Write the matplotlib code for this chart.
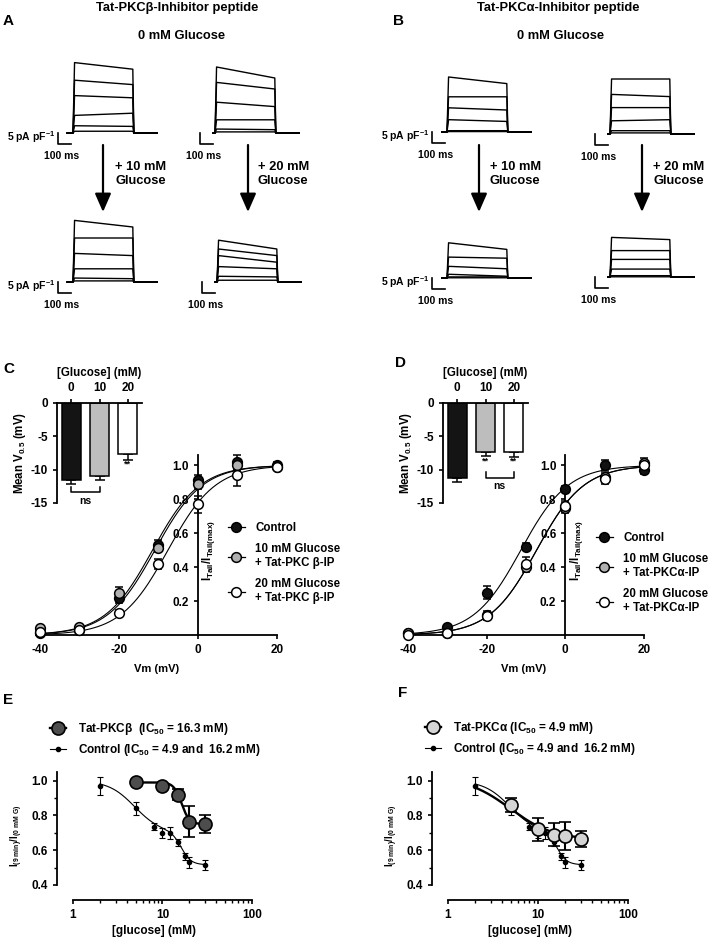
import numpy as np
import matplotlib
matplotlib.use('Agg')
import matplotlib.pyplot as plt
from matplotlib.lines import Line2D
from matplotlib.patches import FancyArrowPatch
from matplotlib.ticker import FixedLocator, NullFormatter

plt.rcParams['font.family'] = ['Liberation Sans', 'DejaVu Sans']
plt.rcParams['font.weight'] = 'bold'
plt.rcParams['axes.labelweight'] = 'bold'
plt.rcParams['axes.unicode_minus'] = False
plt.rcParams['mathtext.fontset'] = 'custom'
plt.rcParams['mathtext.rm'] = 'Liberation Sans:bold'
plt.rcParams['mathtext.bf'] = 'Liberation Sans:bold'
plt.rcParams['mathtext.it'] = 'Liberation Sans:bold'
plt.rcParams['mathtext.default'] = 'bf'
plt.rcParams['axes.linewidth'] = 1.3
plt.rcParams['xtick.major.width'] = 1.2
plt.rcParams['ytick.major.width'] = 1.2
plt.rcParams['xtick.minor.width'] = 1.0
plt.rcParams['ytick.minor.width'] = 1.0
plt.rcParams['xtick.major.size'] = 3
plt.rcParams['ytick.major.size'] = 3
plt.rcParams['xtick.minor.size'] = 2
plt.rcParams['ytick.minor.size'] = 2
plt.rcParams['xtick.labelsize'] = 8.5
plt.rcParams['ytick.labelsize'] = 8.5

# ---- A / B : current traces, amplitude (pA/pF) at start and end of the 460 ms pulse
pulse_ms = 460
a_0mm_left_start = [32, 24, 17, 8, 3.3, 0.8]
a_0mm_left_end = [29, 22, 16, 9, 3.0, 0.8]
a_10mm_start = [28, 20, 13, 6, 1.8, 0.5]
a_10mm_end = [25, 20, 12, 6, 1.5, 0.5]
a_0mm_right_start = [30, 23, 14, 6, 1.8, 0.5]
a_0mm_right_end = [25, 20, 12, 6, 1.5, 0.5]
a_20mm_start = [19, 15, 12, 7, 2.6, 0.8]
a_20mm_end = [15, 12, 9, 6, 2.3, 0.8]

b_0mm_left_start = [25, 16, 11, 5.6, 0.6, 0.2]
b_0mm_left_end = [22, 16, 10, 4.8, 0.6, 0.2]
b_10mm_start = [16, 9.5, 5.3, 1.7, 0.5, 0.1]
b_10mm_end = [13, 9, 4.2, 0.8, 0.5, 0.1]
b_0mm_right_start = [25, 18, 12, 6, 1.5, 0.5]
b_0mm_right_end = [25, 17, 12, 6.5, 1.5, 0.5]
b_20mm_start = [18, 12, 8, 3.6, 0.6, 0.1]
b_20mm_end = [17, 12, 8, 3.6, 0.6, 0.1]

# ---- C / D : activation curves
vm = [-40, -30, -20, -10, 0, 10, 20]
c_ctrl = [0.01, 0.03, 0.22, 0.53, 0.91, 1.02, 1.00]
c_ctrl_err = [0.01, 0.01, 0.03, 0.03, 0.03, 0.04, 0.02]
c_10mm = [0.04, 0.05, 0.25, 0.51, 0.89, 1.00, 0.99]
c_10mm_err = [0.01, 0.01, 0.03, 0.02, 0.03, 0.03, 0.02]
c_20mm = [0.02, 0.03, 0.13, 0.42, 0.77, 0.94, 0.99]
c_20mm_err = [0.01, 0.01, 0.02, 0.03, 0.05, 0.06, 0.02]

d_ctrl = [0.01, 0.05, 0.25, 0.52, 0.86, 1.00, 0.97]
d_ctrl_err = [0.01, 0.01, 0.04, 0.02, 0.02, 0.03, 0.02]
d_10mm = [0.01, 0.01, 0.12, 0.40, 0.75, 0.93, 1.01]
d_10mm_err = [0.01, 0.01, 0.02, 0.03, 0.03, 0.03, 0.03]
d_20mm = [0.00, 0.01, 0.11, 0.42, 0.76, 0.92, 1.00]
d_20mm_err = [0.01, 0.01, 0.02, 0.04, 0.03, 0.03, 0.02]

glucose_groups = ['0', '10', '20']
c_v05 = [-11.5, -10.9, -7.6]
c_v05_err = [0.6, 0.7, 0.9]
d_v05 = [-11.3, -7.3, -7.3]
d_v05_err = [0.6, 0.65, 0.75]
slope_k = 6.0

# ---- E / F : glucose dose response
ctrl_glc = [2, 5, 8, 10, 12, 15, 18, 20, 30]
ctrl_inh = [0.97, 0.84, 0.735, 0.70, 0.70, 0.645, 0.565, 0.53, 0.515]
ctrl_inh_err = [0.05, 0.04, 0.02, 0.03, 0.035, 0.02, 0.02, 0.03, 0.03]
pkc_glc = [5, 10, 15, 20, 30]
beta_inh = [0.99, 0.97, 0.92, 0.765, 0.75]
beta_inh_err = [0.01, 0.01, 0.03, 0.09, 0.05]
alpha_inh = [0.86, 0.72, 0.69, 0.68, 0.665]
alpha_inh_err = [0.04, 0.065, 0.065, 0.08, 0.045]
ctrl_fit = dict(bottom=0.515, span1=0.30, ic1=4.9, n1=3, span2=0.185, ic2=16.2, n2=8)
beta_fit = dict(top=0.99, bottom=0.75, ic=16.3, n=10)
alpha_fit = dict(top=1.02, bottom=0.66, ic=4.9, n=1.8)

W, H = 709, 940
fig = plt.figure(figsize=(W / 100, H / 100), dpi=100)


def box(l, t, r, b):
    return [l / W, 1 - b / H, (r - l) / W, (b - t) / H]


def ftext(x, y, s, **kw):
    fig.text(x / W, 1 - y / H, s, **kw)


def trace_block(x0, y0, starts, ends, pre, with_label):
    # x0: pulse start px, y0: baseline px ; 0.13 px/ms, 2.2 px per pA/pF
    ax = fig.add_axes(box(x0 - 19.5, y0 - 74.8, x0 + 84.5, y0 + 17.6))
    ax.set_xlim(-150, 650)
    ax.set_ylim(-8, 34)
    ax.axis('off')
    for a0, a1 in zip(starts, ends):
        ax.plot([pre, 0, 12, pulse_ms, pulse_ms + 8, 650], [0, 0, a0, a1, 0, 0],
                color='k', lw=1.0)
    ax.plot([-118, -118, -18], [0, -5, -5], color='k', lw=1.2)
    if with_label:
        ax.text(-135, -2, '5 pA pF$^{-1}$', ha='right', va='center', fontsize=7.5)
    ax.text(-85, -10.5, '100 ms', ha='center', va='center', fontsize=7.5)


def down_arrow(x, y0, y1):
    fig.add_artist(FancyArrowPatch((x / W, 1 - y0 / H), (x / W, 1 - y1 / H),
                                   transform=fig.transFigure, color='k', lw=1.6,
                                   arrowstyle='-|>,head_length=0.8,head_width=0.35',
                                   mutation_scale=14, shrinkA=0, shrinkB=0))


# ---- headers
ftext(177, 8, 'Tat-PKCβ-Inhibitor peptide', ha='center', va='center', fontsize=9.3)
ftext(558, 8, 'Tat-PKCα-Inhibitor peptide', ha='center', va='center', fontsize=9.3)
ftext(182, 36, '0 mM Glucose', ha='center', va='center', fontsize=9.3)
ftext(561, 36, '0 mM Glucose', ha='center', va='center', fontsize=9.3)
for lab, x, y in [('A', 3, 21), ('B', 393, 21), ('C', 3, 369), ('D', 395, 363),
                  ('E', 3, 700), ('F', 398, 693)]:
    ftext(x, y, lab, ha='left', va='center', fontsize=11)

trace_block(73, 133, a_0mm_left_start, a_0mm_left_end, -45, True)
trace_block(215, 133, a_0mm_right_start, a_0mm_right_end, -15, False)
trace_block(73, 282, a_10mm_start, a_10mm_end, -45, True)
trace_block(217, 282, a_20mm_start, a_20mm_end, -15, False)
trace_block(447, 132, b_0mm_left_start, b_0mm_left_end, -40, True)
trace_block(610, 134, b_0mm_right_start, b_0mm_right_end, -15, False)
trace_block(447, 278, b_10mm_start, b_10mm_end, -40, True)
trace_block(610, 277, b_20mm_start, b_20mm_end, -15, False)

for x, xt, lab in [(103, 115, '+ 10 mM\nGlucose'), (248, 258, '+ 20 mM\nGlucose'),
                   (479, 490, '+ 10 mM\nGlucose'), (642, 653, '+ 20 mM\nGlucose')]:
    down_arrow(x, 145, 212)
    ftext(xt, 174, lab, ha='left', va='center', fontsize=9.3, linespacing=1.3)


# ---- C / D
def iv_panel(main_box, inset_box, series, v05, v05_err, sig, legend_at, ylab_x):
    ax = fig.add_axes(main_box)
    ax.set_facecolor('none')
    ax.set_xlim(-41, 20)
    ax.set_ylim(0, 1.06)
    ax.spines['left'].set_position(('data', 0))
    ax.spines['top'].set_visible(False)
    ax.spines['right'].set_visible(False)
    ax.set_xticks([-40, -20, 0, 20])
    ax.set_yticks([0.2, 0.4, 0.6, 0.8, 1.0])
    ax.set_yticklabels(['0.2', '0.4', '0.6', '0.8', '1.0'])
    ax.set_xlabel('Vm (mV)', fontsize=8, labelpad=6)
    vv = np.linspace(-40, 20, 200)
    handles = []
    for (ys, es, fc, lab), v in zip(series, v05):
        ax.plot(vv, 1 / (1 + np.exp((v - vv) / slope_k)), color='k', lw=0.8, zorder=2)
        ax.errorbar(vm, ys, yerr=es, fmt='o', ms=7, mfc=fc, mec='k', mew=1.1,
                    ecolor='k', elinewidth=1.1, capsize=3, capthick=1.1,
                    clip_on=False, zorder=3)
        handles.append(Line2D([], [], color='k', lw=0.9, marker='o', ms=7, mfc=fc,
                              mec='k', mew=1.1))
    ax.text(ylab_x, 0.47, r'I$_{Tail}$/I$_{Tail(max)}$', transform=ax.transAxes,
            rotation=90, ha='center', va='center', fontsize=8.3)
    ax.legend(handles, [s[3] for s in series], loc='upper left',
              bbox_to_anchor=(legend_at[0] / W, 1 - legend_at[1] / H),
              bbox_transform=fig.transFigure, frameon=False, borderpad=0,
              borderaxespad=0, handlelength=1.45, handletextpad=0.9,
              labelspacing=0.8, fontsize=8.3)

    ins = fig.add_axes(inset_box)
    ins.set_facecolor('none')
    pos = np.arange(3)
    ins.bar(pos, v05, width=0.68, color=['#141414', '#bdbdbd', 'white'],
            edgecolor='k', lw=1.1, zorder=2)
    ins.errorbar(pos, v05, yerr=[v05_err, np.zeros(3)], fmt='none', ecolor='k',
                 elinewidth=1.1, capsize=3.5, capthick=1.1, zorder=1)
    ins.set_xlim(-0.5, 2.5)
    ins.set_ylim(-15, 0)
    ins.xaxis.tick_top()
    ins.xaxis.set_label_position('top')
    ins.set_xticks(pos)
    ins.set_xticklabels(glucose_groups)
    ins.set_yticks([-15, -10, -5, 0])
    ins.set_xlabel('[Glucose] (mM)', fontsize=8.3, labelpad=4)
    ins.set_ylabel('Mean V$_{0.5}$ (mV)', fontsize=8.3, labelpad=2)
    ins.spines['bottom'].set_visible(False)
    ins.spines['right'].set_visible(False)
    stars, bx0, bx1, by, ny = sig
    for p in stars:
        ins.text(p, v05[p] - v05_err[p] - 0.7, '**', ha='center', va='center', fontsize=6.5)
    ins.plot([bx0, bx0, bx1, bx1], [by + 0.8, by, by, by + 0.8], color='k', lw=1.1,
             clip_on=False)
    ins.text((bx0 + bx1) / 2, ny, 'ns', ha='center', va='center', fontsize=7.5)


iv_panel(box(36, 455, 277, 635), box(57, 403, 142, 503),
         [(c_ctrl, c_ctrl_err, '#111111', 'Control'),
          (c_10mm, c_10mm_err, '#b0b0b0', '10 mM Glucose\n+ Tat-PKC β-IP'),
          (c_20mm, c_20mm_err, 'white', '20 mM Glucose\n+ Tat-PKC β-IP')],
         c_v05, c_v05_err, ([2], 0, 1, -13.4, -14.7), (228, 522), 0.714)

iv_panel(box(404, 455, 644, 635), box(443, 403, 528, 503),
         [(d_ctrl, d_ctrl_err, '#111111', 'Control'),
          (d_10mm, d_10mm_err, '#b0b0b0', '10 mM Glucose\n+ Tat-PKCα-IP'),
          (d_20mm, d_20mm_err, 'white', '20 mM Glucose\n+ Tat-PKCα-IP')],
         d_v05, d_v05_err, ([1, 2], 1, 2, -11.2, -12.5), (596, 532), 0.72)


# ---- E / F
def dose_panel(ax_box, pkc_inh, pkc_err, pkc_fc, fit, fit_from, pkc_label, legend_at):
    ax = fig.add_axes(ax_box)
    ax.set_xscale('log')
    ax.set_xlim(0.663, 100)
    ax.set_ylim(0.3135, 1.05)
    ax.spines['top'].set_visible(False)
    ax.spines['right'].set_visible(False)
    ax.spines['bottom'].set_bounds(1, 100)
    ax.spines['left'].set_bounds(0.4, 1.05)
    ax.set_xticks([1, 10, 100])
    ax.set_xticklabels(['1', '10', '100'])
    ax.xaxis.set_minor_locator(FixedLocator([2, 3, 4, 5, 6, 7, 8, 9,
                                             20, 30, 40, 50, 60, 70, 80, 90]))
    ax.xaxis.set_minor_formatter(NullFormatter())
    ax.set_yticks([0.4, 0.6, 0.8, 1.0])
    ax.set_yticklabels(['0.4', '0.6', '0.8', '1.0'])
    ax.set_yticks([0.5, 0.7, 0.9], minor=True)
    ax.set_xlabel('[glucose] (mM)', fontsize=8.5, labelpad=3)
    ax.set_ylabel(r'I$_{(9\ min)}$/I$_{(0\ mM\ G)}$', fontsize=7, labelpad=5)

    xc = np.logspace(np.log10(2), np.log10(30), 300)
    cf = ctrl_fit
    yc = (cf['bottom'] + cf['span1'] / (1 + (xc / cf['ic1']) ** cf['n1'])
          + cf['span2'] / (1 + (xc / cf['ic2']) ** cf['n2']))
    ax.plot(xc, yc, color='k', lw=0.8, zorder=2)
    ax.errorbar(ctrl_glc, ctrl_inh, yerr=ctrl_inh_err, fmt='o', ms=3, color='k',
                elinewidth=0.8, capsize=2, capthick=0.8, zorder=3)

    xp = np.logspace(np.log10(fit_from), np.log10(30), 300)
    yp = fit['bottom'] + (fit['top'] - fit['bottom']) / (1 + (xp / fit['ic']) ** fit['n'])
    ax.plot(xp, yp, color='k', lw=1.7, zorder=4)
    ax.errorbar(pkc_glc, pkc_inh, yerr=pkc_err, fmt='o', ms=9.4, mfc=pkc_fc, mec='k',
                mew=1.2, ecolor='k', elinewidth=1.5, capsize=4.5, capthick=1.5,
                zorder=5, clip_on=False)

    handles = [Line2D([], [], color='k', lw=1.7, marker='o', ms=9.4, mfc=pkc_fc, mec='k',
                      mew=1.2),
               Line2D([], [], color='k', lw=0.8, marker='o', ms=3)]
    ax.legend(handles, [pkc_label, 'Control (IC$_{50}$ = 4.9 and  16.2 mM)'],
              loc='upper left', bbox_to_anchor=(legend_at[0] / W, 1 - legend_at[1] / H),
              bbox_transform=fig.transFigure, frameon=False, borderpad=0,
              borderaxespad=0, handlelength=1.35, handletextpad=1.0,
              labelspacing=0.45, fontsize=8.5)


dose_panel(box(57, 772, 252, 900), beta_inh, beta_inh_err, '#4d4d4d', beta_fit, 5,
           'Tat-PKCβ  (IC$_{50}$ = 16.3 mM)', (50, 721))
dose_panel(box(432, 772, 628, 900), alpha_inh, alpha_inh_err, '#d4d4d4', alpha_fit, 2,
           'Tat-PKCα (IC$_{50}$ = 4.9 mM)', (425, 720))

fig.savefig('out.png', dpi=100)
